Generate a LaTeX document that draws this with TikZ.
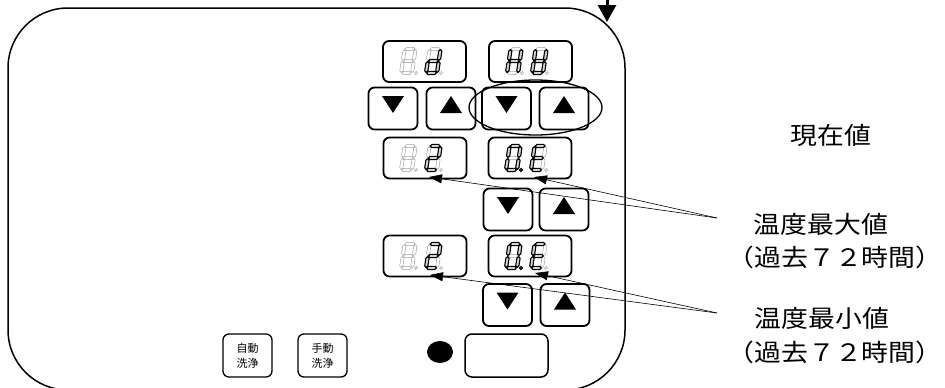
\documentclass[tikz,border=0pt]{standalone}
\usepackage{fontspec}
\newfontfamily\jp{Noto Sans CJK JP}
\usetikzlibrary{arrows.meta,shapes.geometric}
% seven-segment shapes, local frame (y grows downward, digit bottom at 0, top at -24)
\def\SEGa{(0.6,-24) -- (2.2,-25.6) -- (8.8,-25.6) -- (10.4,-24) -- (8.8,-22.4) -- (2.2,-22.4) -- cycle}
\def\SEGg{(0.6,-12) -- (2.2,-13.6) -- (8.8,-13.6) -- (10.4,-12) -- (8.8,-10.4) -- (2.2,-10.4) -- cycle}
\def\SEGd{(0.6,0) -- (2.2,-1.6) -- (8.8,-1.6) -- (10.4,0) -- (8.8,1.6) -- (2.2,1.6) -- cycle}
\def\SEGe{(0,-0.6) -- (1.6,-2.2) -- (1.6,-9.8) -- (0,-11.4) -- (-1.6,-9.8) -- (-1.6,-2.2) -- cycle}
\def\SEGf{(0,-12.6) -- (1.6,-14.2) -- (1.6,-21.8) -- (0,-23.4) -- (-1.6,-21.8) -- (-1.6,-14.2) -- cycle}
\def\SEGc{(11,-0.6) -- (12.6,-2.2) -- (12.6,-9.8) -- (11,-11.4) -- (9.4,-9.8) -- (9.4,-2.2) -- cycle}
\def\SEGb{(11,-12.6) -- (12.6,-14.2) -- (12.6,-21.8) -- (11,-23.4) -- (9.4,-21.8) -- (9.4,-14.2) -- cycle}
\def\SEGx{(0,0)}
\def\SEGp{(15,0) circle[radius=1.5pt]}
\newcommand\segdigit[3]{%
  \begin{scope}[shift={(#1,#2)}, xslant=0.15]
    \foreach \s in {a,b,c,d,e,f,g,p} \draw[segoff] \csname SEG\s\endcsname;
    \foreach \s in {#3} \filldraw[segon] \csname SEG\s\endcsname;
  \end{scope}}
\begin{document}
\begin{tikzpicture}[x=1pt,y=-1pt,
  frame/.style={draw, line width=1.5pt},
  disp/.style={draw, line width=1.8pt, rounded corners=6pt, minimum width=83pt, minimum height=41pt, inner sep=0pt},
  btn/.style={draw, line width=1.8pt, rounded corners=6pt, minimum width=49pt, minimum height=42pt, inner sep=0pt},
  wash/.style={draw, line width=1.3pt, rounded corners=6pt, minimum width=49pt, minimum height=43pt, inner sep=0pt, align=center, font=\jp\fontsize{11}{15}\selectfont},
  lbl/.style={inner sep=0pt, xscale=1.12, font=\jp\fontsize{24}{28}\selectfont},
  segoff/.style={draw=gray!75, line width=0.5pt},
  segon/.style={fill=gray!35, draw=black, line width=1.1pt},
  tri/.style={fill=black},
  ptr/.style={line width=0.6pt, -{Triangle[length=13pt,width=9pt]}},
  bigarrow/.style={line width=3pt, -{Triangle[length=17pt,width=18pt]}}
]
\useasboundingbox (0,0) rectangle (945,388);
% main panel
\draw[frame, rounded corners=60pt] (8,8) rectangle (625,390);
% top arrow
\coordinate (atop) at (607,-1);
\coordinate (abot) at (607,22);
\draw[bigarrow] (atop) -- (abot);
% displays
\node[disp] (D1) at (424.5,61.5) {};
\node[disp] (D2) at (530.5,61.5) {};
\node[disp] (D3) at (425,158) {};
\node[disp] (D4) at (530,158) {};
\node[disp] (D5) at (425,256) {};
\node[disp] (D6) at (530,256) {};
% digits
\segdigit{401}{73}{x}
\segdigit{426}{73}{b,c,d,e,g}
\segdigit{507}{73}{b,c,e,f,g}
\segdigit{532}{73}{b,c,d,e,f,g}
\segdigit{401}{170}{x}
\segdigit{426}{170}{a,b,g,e,d}
\segdigit{506}{170}{a,b,c,d,e,f,p}
\segdigit{531}{170}{a,d,e,f,g}
\segdigit{401}{268}{x}
\segdigit{426}{268}{a,b,g,e,d}
\segdigit{506}{268}{a,b,c,d,e,f,p}
\segdigit{531}{268}{a,d,e,f,g}
% buttons
\node[btn] (B1) at (393,108.5) {};
\node[btn] (B2) at (451,108.5) {};
\node[btn] (B3) at (506.5,108.5) {};
\node[btn] (B4) at (564,108.5) {};
\node[btn] (B5) at (508,209.5) {};
\node[btn] (B6) at (564,209.5) {};
\node[btn] (B7) at (507.5,305) {};
\node[btn] (B8) at (565,305) {};
\foreach \b in {B1,B3,B5,B7}
  \fill[tri] ([shift={(-11,-12.5)}]\b.center) -- ([shift={(11,-12.5)}]\b.center) -- ([shift={(0,4.5)}]\b.center) -- cycle;
\foreach \b in {B2,B4,B6,B8}
  \fill[tri] ([shift={(-11,4.5)}]\b.center) -- ([shift={(11,4.5)}]\b.center) -- ([shift={(0,-12.5)}]\b.center) -- cycle;
% ellipse around current value buttons
\node[draw, line width=1.3pt, ellipse, minimum width=133pt, minimum height=55pt, inner sep=0pt] (E) at (535.5,107.5) {};
% bottom controls
\node[wash] (W1) at (247.5,355.5) {自動\\洗浄};
\node[wash] (W2) at (322.5,355.5) {手動\\洗浄};
\node[ellipse, fill=black, minimum width=26pt, minimum height=22pt, inner sep=0pt] (LED) at (440,352) {};
\node[draw, line width=1.5pt, rounded corners=7pt, minimum width=83pt, minimum height=43pt, inner sep=0pt] (BL) at (506.5,355.5) {};
% labels
\node[lbl] (cur) at (831,135) {現在値};
\node[lbl] (mx) at (821,224) {温度最大値};
\node[lbl] (mxp) at (835,257) {（過去７２時間）};
\node[lbl] (mn) at (822,318) {温度最小値};
\node[lbl] (mnp) at (835,352) {（過去７２時間）};
% pointers
\coordinate (cmx) at (717,218);
\coordinate (tmx1) at (429,177);
\coordinate (tmx2) at (534,177);
\coordinate (cmn) at (717,313);
\coordinate (tmn1) at (430,275);
\coordinate (tmn2) at (535,273);
\draw[ptr] (cmx) -- (tmx1);
\draw[ptr] (cmx) -- (tmx2);
\draw[ptr] (cmn) -- (tmn1);
\draw[ptr] (cmn) -- (tmn2);
\end{tikzpicture}
\end{document}
